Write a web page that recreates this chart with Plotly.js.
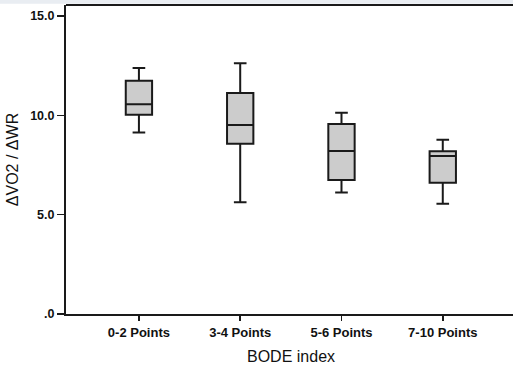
<!DOCTYPE html>
<html>
<head>
<meta charset="utf-8">
<script src="https://cdn.plot.ly/plotly-3.0.1.min.js"></script>
<style>
html,body{margin:0;padding:0;overflow:hidden;background:#fff;width:513px;height:367px;}
#wrap{width:513px;height:367px;overflow:hidden;position:relative;}
#chart{width:540px;height:367px;position:absolute;left:0;top:0;}
</style>
</head>
<body>
<div id="wrap"><div id="chart"></div></div>
<script>
const categories = ["0-2 Points", "3-4 Points", "5-6 Points", "7-10 Points"];
const lowerWhisker = [9.14, 5.62, 6.12, 5.55];
const q1Values = [10.03, 8.57, 6.74, 6.61];
const medianValues = [10.55, 9.51, 8.20, 7.95];
const q3Values = [11.74, 11.12, 9.56, 8.19];
const upperWhisker = [12.38, 12.62, 10.13, 8.77];
const yTickVals = [0, 5, 10, 15];
const yTickText = [".0", "5.0", "10.0", "15.0"];

const trace = {
  type: "box",
  x: categories,
  q1: q1Values,
  median: medianValues,
  q3: q3Values,
  lowerfence: lowerWhisker,
  upperfence: upperWhisker,
  width: 0.26,
  whiskerwidth: 0.48,
  fillcolor: "#cccccc",
  line: {color: "#1a1a1a", width: 2},
  boxpoints: false,
  hoverinfo: "skip",
  showlegend: false
};

const layout = {
  width: 540,
  height: 367,
  margin: {l: 66, r: 0, t: 5, b: 53},
  paper_bgcolor: "#ffffff",
  plot_bgcolor: "#ffffff",
  font: {family: "Liberation Sans, Arial, sans-serif", color: "#111111"},
  xaxis: {
    type: "category",
    range: [-0.72, 3.96],
    showgrid: false,
    zeroline: false,
    showline: true,
    linecolor: "#1a1a1a",
    linewidth: 2,
    mirror: false,
    ticks: "outside",
    ticklen: 5,
    tickwidth: 1.5,
    tickcolor: "#1a1a1a",
    tickfont: {family: "Liberation Sans, Arial, sans-serif", size: 13, weight: "bold", color: "#111"},
    title: {text: "", font: {size: 16, color: "#111"}}
  },
  yaxis: {
    range: [0, 15.55],
    showgrid: false,
    zeroline: false,
    showline: true,
    linecolor: "#1a1a1a",
    linewidth: 2,
    ticks: "outside",
    ticklen: 7,
    tickwidth: 1.5,
    tickcolor: "#1a1a1a",
    tickvals: yTickVals,
    ticktext: yTickText,
    tickfont: {family: "Liberation Sans, Arial, sans-serif", size: 12.5, weight: "bold", color: "#111"},
    title: {text: "ΔVO2 / ΔWR", font: {size: 16, color: "#111"}, standoff: 8}
  },
  annotations: [
    {text: "BODE index", xref: "x", yref: "paper", x: 1.5, y: 0, yshift: -42, showarrow: false, font: {size: 16, color: "#111"}, yanchor: "middle"}
  ],
  shapes: [
    {type: "rect", xref: "paper", yref: "paper", x0: -0.3, x1: 1.1, y0: 1.004, y1: 1.05, fillcolor: "#e9edf2", line: {width: 0}, layer: "below"},
    {type: "line", xref: "paper", yref: "paper", x0: 0, x1: 1, y0: 1, y1: 1, line: {color: "#1a1a1a", width: 2}}
  ]
};

Plotly.newPlot("chart", [trace], layout, {displayModeBar: false, staticPlot: true});
</script>
</body>
</html>
